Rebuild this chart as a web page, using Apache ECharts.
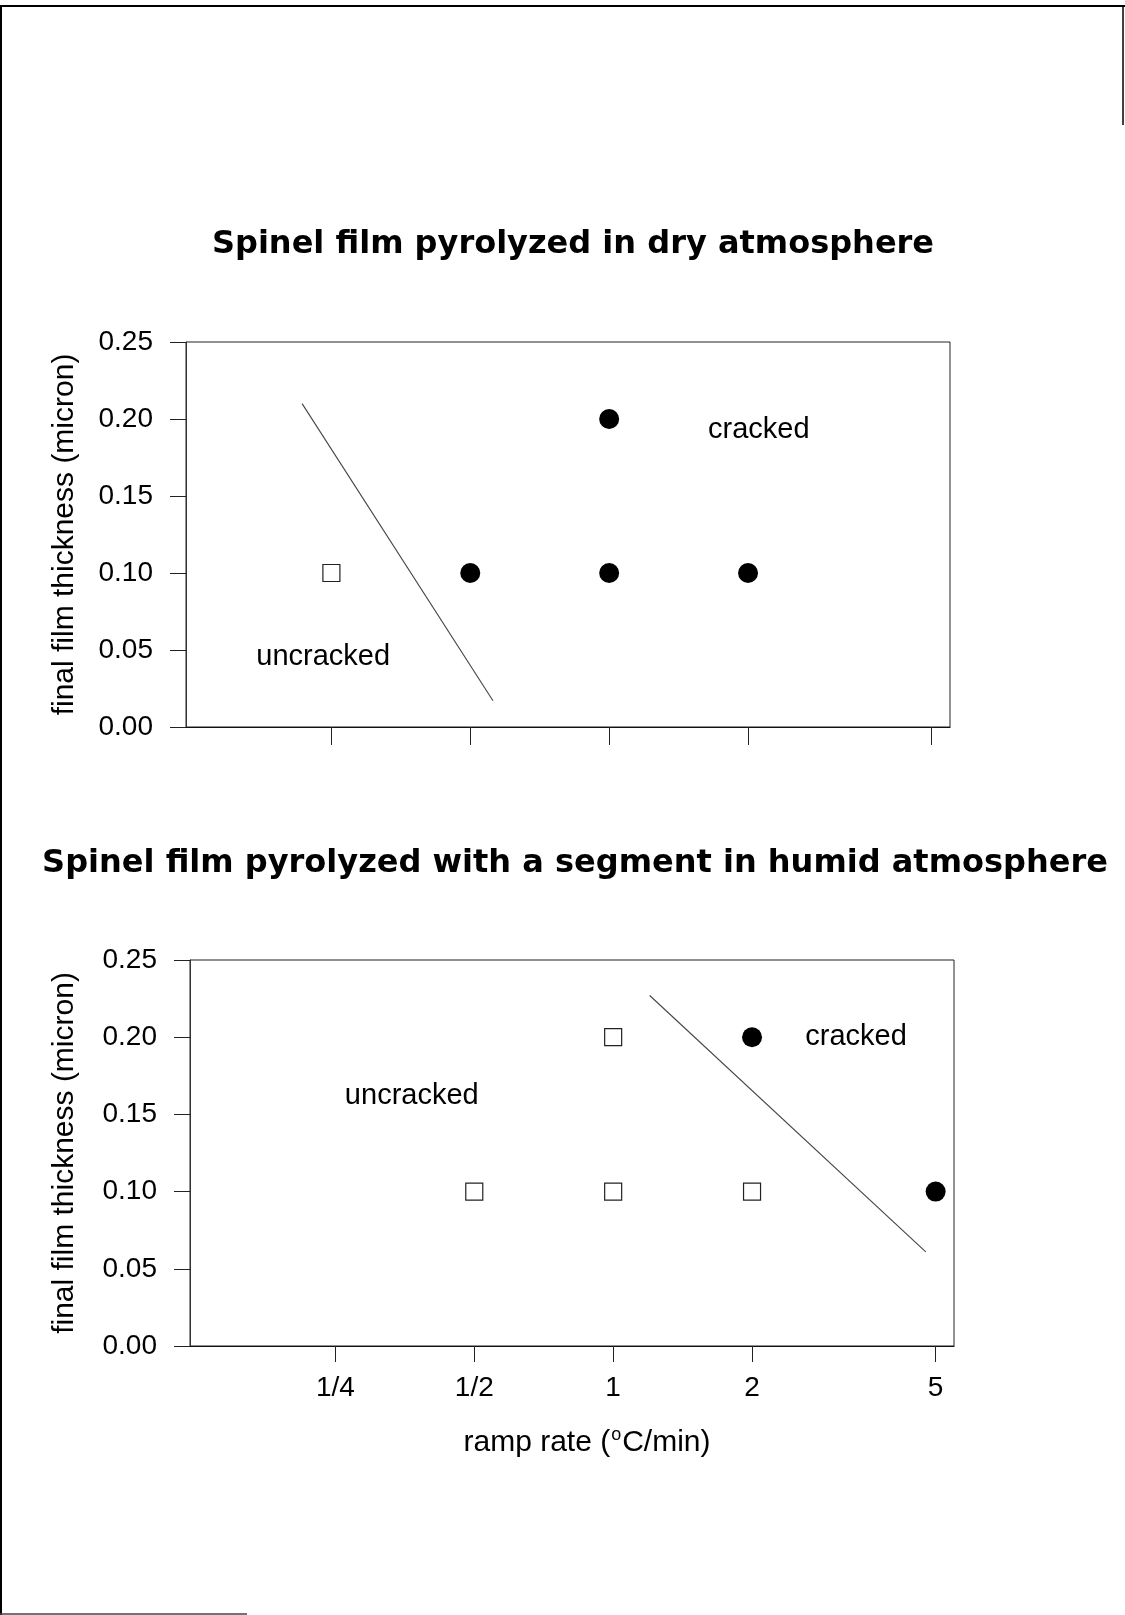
<!DOCTYPE html>
<html>
<head>
<meta charset="utf-8">
<script src="https://cdn.jsdelivr.net/npm/echarts@6/dist/echarts.min.js"></script>
<style>
html,body{margin:0;padding:0;background:#fff;}
#chart{width:1125px;height:1615px;}
</style>
</head>
<body>
<div id="chart"></div>
<script>
// ---- data ----
const xTickValues = [0.25, 0.5, 1, 2, 5];
const xTickLabels = ['1/4', '1/2', '1', '2', '5'];
const yTickValues = [0.00, 0.05, 0.10, 0.15, 0.20, 0.25];

const titleDry = 'Spinel film pyrolyzed in dry atmosphere';
const titleHumid = 'Spinel film pyrolyzed with a segment in humid atmosphere';
const yName = 'final film thickness (micron)';

// dry atmosphere (top panel)
const dryUncracked = [[0.25, 0.10]];
const dryCracked = [[0.5, 0.10], [1, 0.20], [1, 0.10], [2, 0.10]];
const dryBoundary = [[0.216, 0.210], [0.56, 0.017]];
const dryNotes = [['cracked', 2.11, 0.193], ['uncracked', 0.24, 0.0455]];

// humid segment (bottom panel)
const humidUncracked = [[0.5, 0.10], [1, 0.20], [1, 0.10], [2, 0.10]];
const humidCracked = [[2, 0.20], [5, 0.10]];
const humidBoundary = [[1.20, 0.227], [4.76, 0.061]];
const humidNotes = [['cracked', 3.36, 0.200], ['uncracked', 0.366, 0.162]];

// ---- chart ----
const FONT = '"Liberation Sans", Arial, sans-serif';
const chart = echarts.init(document.getElementById('chart'), null, {renderer: 'canvas'});

function tickLabel(v) {
  for (let i = 0; i < xTickValues.length; i++) {
    if (Math.abs(xTickValues[i] - v) < 1e-6) return xTickLabels[i];
  }
  return '';
}

function xAxisCfg(gridIndex, showLabels, tickLen) {
  const ax = {
    type: 'log', logBase: 2, gridIndex: gridIndex,
    min: 0.121, max: 5.48,
    axisLine: {show: true, lineStyle: {color: '#111', width: 1.2}},
    axisTick: {show: true, inside: false, length: tickLen, customValues: xTickValues,
               lineStyle: {color: '#222', width: 1}},
    axisLabel: {show: showLabels, customValues: xTickValues, margin: 28,
                fontFamily: FONT, fontSize: 28, color: '#000', formatter: tickLabel},
    splitLine: {show: false}, minorTick: {show: false}
  };
  if (showLabels) {
    ax.name = '{n|ramp rate (}{s|o}{n|C/min)}';
    ax.nameLocation = 'middle';
    ax.nameGap = 80;
    ax.nameTextStyle = {
      padding: [0, 0, 0, 30],
      rich: {
        n: {fontFamily: FONT, fontSize: 30, color: '#000', lineHeight: 32, verticalAlign: 'bottom'},
        s: {fontFamily: FONT, fontSize: 18, color: '#000', lineHeight: 32, verticalAlign: 'top', padding: [0, 1, 0, 1]}
      }
    };
  }
  return ax;
}

function yAxisCfg(gridIndex, nameGap) {
  return {
    type: 'value', gridIndex: gridIndex, min: 0, max: 0.25, interval: 0.05,
    name: yName, nameLocation: 'middle', nameRotate: 90, nameGap: nameGap,
    nameTextStyle: {fontFamily: FONT, fontSize: 30, color: '#000'},
    axisLine: {show: true, lineStyle: {color: '#333', width: 1}},
    axisTick: {show: true, inside: false, length: 16, lineStyle: {color: '#222', width: 1}},
    axisLabel: {fontFamily: FONT, fontSize: 28, color: '#000', margin: 33,
                formatter: v => v.toFixed(2)},
    splitLine: {show: false}
  };
}

function squares(data, xi) {
  return {type: 'scatter', xAxisIndex: xi, yAxisIndex: xi, data: data,
          symbol: 'rect', symbolSize: 17,
          itemStyle: {color: '#fff', borderColor: '#222', borderWidth: 1.2, opacity: 1}, z: 5};
}
function circles(data, xi) {
  return {type: 'scatter', xAxisIndex: xi, yAxisIndex: xi, data: data,
          symbol: 'circle', symbolSize: 20, itemStyle: {color: '#000', opacity: 1}, z: 5};
}
function boundary(data, xi) {
  return {type: 'line', xAxisIndex: xi, yAxisIndex: xi, data: data,
          symbol: 'none', lineStyle: {color: '#444', width: 1.1}, z: 3};
}
function notes(list, xi) {
  return {type: 'scatter', xAxisIndex: xi, yAxisIndex: xi,
          data: list.map(d => ({name: d[0], value: [d[1], d[2]]})),
          symbolSize: 0, silent: true, itemStyle: {opacity: 1},
          label: {show: true, position: 'inside', formatter: p => p.name,
                  fontFamily: FONT, fontSize: 29, color: '#000'}, z: 6};
}

const TITLE_STYLE = {fontFamily: '"DejaVu Sans", sans-serif', fontWeight: 'bold', fontSize: 32, color: '#000'};

const option = {
  backgroundColor: '#fff',
  animation: false,
  title: [
    {text: titleDry, left: 568, top: 224, textAlign: 'center', textStyle: TITLE_STYLE},
    {text: titleHumid, left: 570, top: 843, textAlign: 'center', textStyle: TITLE_STYLE}
  ],
  grid: [
    {left: 186, top: 342, width: 764, height: 385, show: true, borderColor: '#222', borderWidth: 1, backgroundColor: 'transparent'},
    {left: 190, top: 960, width: 764, height: 386, show: true, borderColor: '#222', borderWidth: 1, backgroundColor: 'transparent'}
  ],
  xAxis: [xAxisCfg(0, false, 18), xAxisCfg(1, true, 16)],
  yAxis: [yAxisCfg(0, 106), yAxisCfg(1, 110)],
  series: [
    boundary(dryBoundary, 0), squares(dryUncracked, 0), circles(dryCracked, 0), notes(dryNotes, 0),
    boundary(humidBoundary, 1), squares(humidUncracked, 1), circles(humidCracked, 1), notes(humidNotes, 1)
  ],
  graphic: [
    {type: 'line', shape: {x1: 0, y1: 6, x2: 1125, y2: 6}, style: {stroke: '#000', lineWidth: 2}, silent: true},
    {type: 'line', shape: {x1: 1, y1: 6, x2: 1, y2: 1615}, style: {stroke: '#000', lineWidth: 2}, silent: true},
    {type: 'line', shape: {x1: 1123, y1: 6, x2: 1123, y2: 125}, style: {stroke: '#000', lineWidth: 1.5}, silent: true},
    {type: 'line', shape: {x1: 0, y1: 1614, x2: 247, y2: 1614}, style: {stroke: '#444', lineWidth: 1.5}, silent: true}
  ]
};
chart.setOption(option);
</script>
</body>
</html>
